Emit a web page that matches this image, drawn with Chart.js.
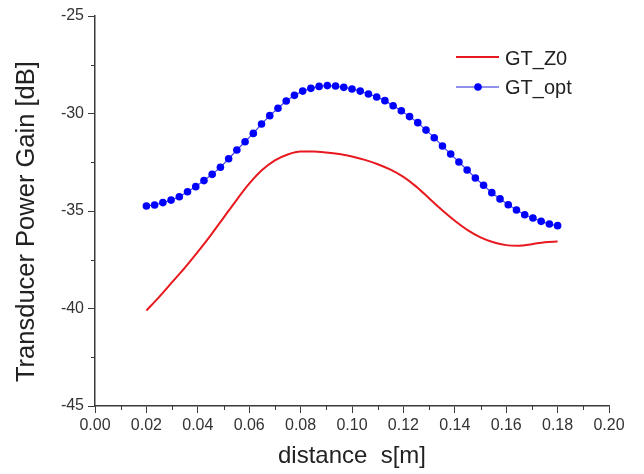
<!DOCTYPE html>
<html>
<head>
<meta charset="utf-8">
<script src="https://cdn.jsdelivr.net/npm/chart.js@4.4.1/dist/chart.umd.min.js"></script>
<style>
  html, body { margin: 0; padding: 0; background: #fff; }
  #wrap { width: 644px; height: 474px; }
</style>
</head>
<body>
<div id="wrap"><canvas id="gainChart" width="644" height="474"></canvas></div>
<script>
// GT_Z0 curve
var z0Distance = [0.020, 0.025, 0.030, 0.035, 0.040, 0.045, 0.050, 0.055, 0.060, 0.065, 0.070,
                  0.075, 0.080, 0.085, 0.090, 0.095, 0.100, 0.105, 0.110, 0.115, 0.120, 0.125,
                  0.130, 0.135, 0.140, 0.145, 0.150, 0.155, 0.160, 0.165, 0.170, 0.175, 0.180];
var z0Gain = [-40.1, -39.4, -38.65, -37.9, -37.1, -36.25, -35.35, -34.45, -33.6, -32.9, -32.4,
              -32.1, -31.95, -31.95, -32.0, -32.08, -32.2, -32.38, -32.6, -32.88, -33.25, -33.75,
              -34.35, -34.95, -35.5, -35.98, -36.35, -36.6, -36.75, -36.78, -36.7, -36.6, -36.57];

// GT_opt samples (one marker each)
var optDistance = [0.0200, 0.0232, 0.0264, 0.0296, 0.0328, 0.0360, 0.0392, 0.0424, 0.0456, 0.0488,
                   0.0520, 0.0552, 0.0584, 0.0616, 0.0648, 0.0680, 0.0712, 0.0744, 0.0776, 0.0808,
                   0.0840, 0.0872, 0.0904, 0.0936, 0.0968, 0.1000, 0.1032, 0.1064, 0.1096, 0.1128,
                   0.1160, 0.1192, 0.1224, 0.1256, 0.1288, 0.1320, 0.1352, 0.1384, 0.1416, 0.1448,
                   0.1480, 0.1512, 0.1544, 0.1576, 0.1608, 0.1640, 0.1672, 0.1704, 0.1736, 0.1768, 0.1800];
var optGain = [-34.74, -34.69, -34.57, -34.44, -34.27, -34.01, -33.75, -33.44, -33.12, -32.76,
               -32.32, -31.87, -31.45, -31.02, -30.54, -30.11, -29.73, -29.36, -29.07, -28.85,
               -28.71, -28.61, -28.57, -28.59, -28.66, -28.74, -28.85, -29.0, -29.15, -29.34,
               -29.6, -29.86, -30.16, -30.47, -30.85, -31.24, -31.67, -32.08, -32.49, -32.9,
               -33.31, -33.68, -34.06, -34.38, -34.68, -34.95, -35.19, -35.36, -35.53, -35.67, -35.75];

var seriesNames = ['GT_Z0', 'GT_opt'];

function pairs(xs, ys) {
    return xs.map(function (x, i) { return {x: x, y: ys[i]}; });
}

var axisColor = '#3a3a3a';
var textColor = '#333';
var fontFamily = '"Liberation Sans", Arial, sans-serif';

// short ticks half way between the labelled ones
var minorTicks = {
    id: 'minorTicks',
    afterDraw: function (chart) {
        var ctx = chart.ctx;
        var xs = chart.scales.x, ys = chart.scales.y;
        ctx.save();
        ctx.strokeStyle = axisColor;
        ctx.lineWidth = 1;
        ctx.beginPath();
        for (var i = 0; i < xs.ticks.length - 1; i++) {
            var px = Math.round(xs.getPixelForValue((xs.ticks[i].value + xs.ticks[i + 1].value) / 2)) + 0.5;
            ctx.moveTo(px, xs.top);
            ctx.lineTo(px, xs.top + 4);
        }
        for (var j = 0; j < ys.ticks.length - 1; j++) {
            var py = Math.round(ys.getPixelForValue((ys.ticks[j].value + ys.ticks[j + 1].value) / 2)) + 0.5;
            ctx.moveTo(ys.right, py);
            ctx.lineTo(ys.right - 4, py);
        }
        ctx.stroke();
        ctx.restore();
    }
};

// legend box in the upper right, inside the plot
var insideLegend = {
    id: 'insideLegend',
    afterDraw: function (chart) {
        var ctx = chart.ctx;
        ctx.save();
        ctx.lineWidth = 2;
        ctx.strokeStyle = '#e8191e';
        ctx.beginPath();
        ctx.moveTo(456, 57);
        ctx.lineTo(499, 57);
        ctx.stroke();
        ctx.lineWidth = 1.5;
        ctx.strokeStyle = '#6a6ae6';
        ctx.beginPath();
        ctx.moveTo(456, 87);
        ctx.lineTo(499, 87);
        ctx.stroke();
        ctx.fillStyle = '#0000ff';
        ctx.beginPath();
        ctx.arc(478, 87, 3.8, 0, Math.PI * 2);
        ctx.fill();
        ctx.fillStyle = '#222';
        ctx.font = '20px ' + fontFamily;
        ctx.textBaseline = 'alphabetic';
        ctx.fillText(seriesNames[0], 505, 65);
        ctx.fillText(seriesNames[1], 505, 94);
        ctx.restore();
    }
};

var ctx = document.getElementById('gainChart');
var gainChart = new Chart(ctx, {
    type: 'line',
    data: {
        datasets: [
            {
                label: seriesNames[0],
                data: pairs(z0Distance, z0Gain),
                borderColor: '#e8191e',
                borderWidth: 2,
                pointRadius: 0,
                cubicInterpolationMode: 'monotone',
                fill: false
            },
            {
                label: seriesNames[1],
                data: pairs(optDistance, optGain),
                borderColor: '#4a4ae8',
                borderWidth: 1.2,
                pointRadius: 3.8,
                pointBackgroundColor: '#0000ff',
                pointBorderColor: '#0000ff',
                pointBorderWidth: 0,
                tension: 0,
                fill: false
            }
        ]
    },
    options: {
        responsive: false,
        animation: false,
        layout: {
            padding: {left: 0, right: 35, top: 16, bottom: 0}
        },
        plugins: {
            legend: {display: false},
            tooltip: {enabled: false}
        },
        scales: {
            x: {
                type: 'linear',
                min: 0,
                max: 0.2,
                afterFit: function (scale) { scale.height = 68; },
                border: {color: axisColor, width: 1.5},
                grid: {drawOnChartArea: false, drawTicks: true, tickLength: 7, color: axisColor},
                ticks: {
                    stepSize: 0.02,
                    color: textColor,
                    padding: 3,
                    maxRotation: 0,
                    font: {family: fontFamily, size: 16},
                    callback: function (v) { return v.toFixed(2); }
                },
                title: {
                    display: true,
                    text: 'distance  s[m]',
                    color: '#222',
                    padding: {top: 0, bottom: 3},
                    font: {family: fontFamily, size: 24}
                }
            },
            y: {
                min: -45,
                max: -25,
                afterFit: function (scale) { scale.width = 95; },
                border: {color: axisColor, width: 1.5},
                grid: {drawOnChartArea: false, drawTicks: true, tickLength: 7, color: axisColor},
                ticks: {
                    stepSize: 5,
                    color: textColor,
                    padding: 4,
                    font: {family: fontFamily, size: 16}
                },
                title: {
                    display: true,
                    // trailing spaces nudge the title a little lower, as in the original
                    text: 'Transducer Power Gain [dB]   ',
                    color: '#222',
                    padding: {top: 12, bottom: 0},
                    font: {family: fontFamily, size: 25.5}
                }
            }
        }
    },
    plugins: [minorTicks, insideLegend]
});
</script>
</body>
</html>
